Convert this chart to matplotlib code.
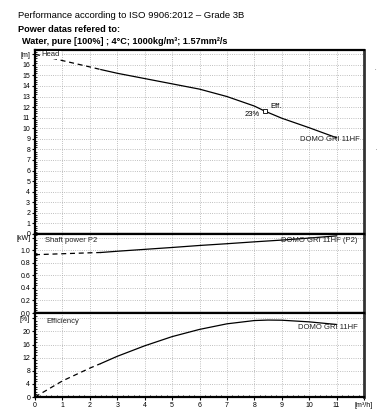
import numpy as np
import matplotlib.pyplot as plt
from matplotlib.ticker import MultipleLocator

plt.rcParams['font.family'] = ['Liberation Sans', 'DejaVu Sans']

# head curve (Q in m3/h, H in m)
q_head = [0, 1, 2, 2.4, 3, 4, 5, 6, 7, 8, 8.4, 9, 10, 11]
head = [17.0, 16.4, 15.8, 15.55, 15.2, 14.7, 14.2, 13.7, 13.0, 12.1, 11.6, 10.95, 10.05, 9.1]

# shaft power P2 (kW)
q_pow = [0, 1, 2, 2.4, 3, 4, 5, 6, 7, 8, 9, 10, 11]
power = [0.93, 0.945, 0.96, 0.965, 0.985, 1.015, 1.045, 1.077, 1.105, 1.135, 1.163, 1.195, 1.23]

# efficiency (%)
q_eff = [0, 1, 2, 2.4, 3, 4, 5, 6, 7, 8, 8.5, 9, 10, 11]
eff = [0, 4.9, 8.8, 10.2, 12.4, 15.6, 18.4, 20.6, 22.3, 23.3, 23.45, 23.4, 22.9, 22.1]

q_split = 2.4       # start of the solid (valid) range
bep_q, bep_h = 8.4, 11.6

W, H = 377, 417
fig = plt.figure(figsize=(W / 100, H / 100), dpi=100)

left = 35 / W
width = (364 - 35) / W

def box(top_px, bot_px):
    return [left, 1 - bot_px / H, width, (bot_px - top_px) / H]

ax1 = fig.add_axes(box(50, 234))
ax2 = fig.add_axes(box(234, 313))
ax3 = fig.add_axes(box(313, 397))

def split_plot(ax, x, y):
    x = np.array(x)
    y = np.array(y)
    m1 = x <= q_split
    m2 = x >= q_split
    ax.plot(x[m1], y[m1], color='black', lw=0.9, ls=(0, (4, 3)))
    ax.plot(x[m2], y[m2], color='black', lw=0.9)

split_plot(ax1, q_head, head)
split_plot(ax2, q_pow, power)
split_plot(ax3, q_eff, eff)

# best efficiency point
ax1.plot([bep_q], [bep_h], marker='s', ms=3, mfc='white', mec='black', mew=0.6)
ax1.text(8.6, 12.1, 'Eff.', fontsize=5.5, ha='left', va='center')
ax1.text(7.94, 11.3, '23%', fontsize=5.5, ha='center', va='center')

txt = dict(fontsize=5.5, va='center', color='#222222')
ax1.text(0.25, 16.95, 'Head', ha='left', bbox=dict(fc='white', ec='none', pad=0.3), **txt)
ax1.text(11.84, 8.9, 'DOMO GRI 11HF', ha='right', **txt)
ax2.text(0.36, 1.16, 'Shaft power P2', ha='left', **txt)
ax2.text(11.77, 1.16, 'DOMO GRI 11HF (P2)', ha='right', **txt)
ax3.text(0.4, 22.96, 'Efficiency', ha='left', **txt)
ax3.text(11.77, 21.1, 'DOMO GRI 11HF', ha='right', **txt)

# axes setup
specs = [
    (ax1, (0, 17.4), list(range(0, 17)), '[m]', 17, 0.2),
    (ax2, (0, 1.26), [0.0, 0.2, 0.4, 0.6, 0.8, 1.0], '[kW]', 1.2, 0.04),
    (ax3, (0, 25.6), [0, 4, 8, 12, 16, 20], '[%]', 24, 0.8),
]
for ax, ylim, yt, unit, upos, ymin in specs:
    ax.set_xlim(0, 12)
    ax.set_ylim(*ylim)
    ticks = list(yt) + [upos]
    if ax is ax2:
        labels = ['%.1f' % v for v in yt] + [unit]
    else:
        labels = [str(v) for v in yt] + [unit]
    ax.set_yticks(ticks)
    ax.set_yticklabels(labels)
    ax.yaxis.set_minor_locator(MultipleLocator(ymin))
    ax.set_xticks(range(0, 13))
    ax.xaxis.set_minor_locator(MultipleLocator(0.2))
    ax.grid(True, which='major', color='#aaaaaa', ls=':', lw=0.6)
    ax.tick_params(axis='both', which='major', labelsize=5, length=2.5, width=0.8,
                   direction='out', pad=1)
    ax.tick_params(axis='both', which='minor', length=1.5, width=0.6, direction='in')
    for s in ['left', 'bottom', 'top']:
        ax.spines[s].set_linewidth(1.6)
        ax.spines[s].set_color('black')
    ax.spines['right'].set_linewidth(2.0)
    ax.spines['right'].set_color('#333333')
    ax.set_axisbelow(True)

for ax in (ax1, ax2):
    ax.tick_params(axis='x', which='both', labelbottom=False, length=0)

ax3.set_xticklabels([str(i) for i in range(12)] + ['[m³/h]'])

# header text
fig.text(18 / W, 1 - 15 / H, 'Performance according to ISO 9906:2012 – Grade 3B',
         fontsize=6.8, ha='left', va='center')
fig.text(18 / W, 1 - 29 / H, 'Power datas refered to:', fontsize=6.6,
         fontweight='bold', ha='left', va='center')
fig.text(22 / W, 1 - 41 / H, 'Water, pure [100%] ; 4°C; 1000kg/m³; 1.57mm²/s',
         fontsize=6.6, fontweight='bold', ha='left', va='center')
fig.text(375 / W, 1 - 68 / H, '.', fontsize=4, ha='center', va='center')
fig.text(376 / W, 1 - 148 / H, '.', fontsize=4, ha='center', va='center')

fig.savefig('out.png', dpi=100)
